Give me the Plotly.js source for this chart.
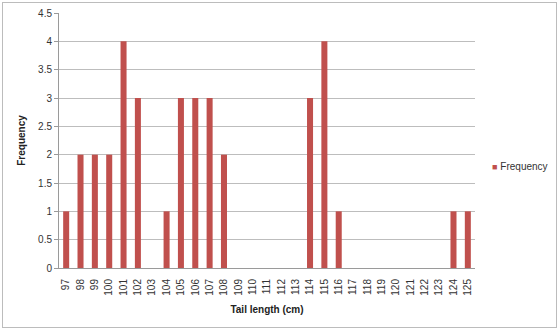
<!DOCTYPE html>
<html><head><meta charset="utf-8">
<script src="https://cdn.plot.ly/plotly-3.0.1.min.js"></script>
<style>html,body{margin:0;padding:0;background:#fff}#c{width:560px;height:331px}
#frame{position:absolute;left:2px;top:2px;width:555px;height:326px;border:1px solid #bcbcbc;pointer-events:none;box-sizing:border-box}</style>
</head><body>
<div id="c"></div><div id="frame"></div>
<script>
const categories = ["97","98","99","100","101","102","103","104","105","106","107","108","109","110","111","112","113","114","115","116","117","118","119","120","121","122","123","124","125"];
const frequency = [1,2,2,2,4,3,0,1,3,3,3,2,0,0,0,0,0,3,4,1,0,0,0,0,0,0,0,1,1];
const yTicks = [0,0.5,1,1.5,2,2.5,3,3.5,4,4.5];
const yTickLabels = ["0","0.5","1","1.5","2","2.5","3","3.5","4","4.5"];
const seriesName = "Frequency";
const barColor = "#C0504D";

const font = "Liberation Sans, Arial, sans-serif";
Plotly.newPlot("c", [{
  type: "bar", x: categories, y: frequency, name: seriesName, showlegend: false,
  marker: {color: barColor}
}, {
  type: "scatter", mode: "markers", x: [null], y: [null],
  name: '<span style="color:' + barColor + ';font-size:9px">■</span> ' + seriesName, showlegend: true,
  marker: {color: "rgba(0,0,0,0)", symbol: "square", size: 1, line: {width: 0}}
}], {
  width: 560, height: 331,
  margin: {l: 59, r: 85, t: 13, b: 63, autoexpand: false},
  paper_bgcolor: "#fff", plot_bgcolor: "#fff",
  bargap: 0.58,
  showlegend: true,
  legend: {x: 0.945, y: 0.40, xanchor: "left", yanchor: "middle", font: {family: font, size: 10, color: "#333"}, itemwidth: 30, bgcolor: "rgba(0,0,0,0)"},
  xaxis: {
    type: "category", tickangle: -90, tickfont: {family: font, size: 10, color: "#333"},
    showline: true, linecolor: "#9a9a9a", showgrid: false, ticks: "", ticklabelstandoff: 6,
    title: {text: "<b>Tail length (cm)</b>", font: {family: font, size: 10, color: "#222"}, standoff: 11}
  },
  yaxis: {
    range: [0, 4.5], tickvals: yTicks, ticktext: yTickLabels,
    tickfont: {family: font, size: 10, color: "#333"},
    showline: true, linecolor: "#9a9a9a", gridcolor: "#bdbdbd", zeroline: false,
    ticks: "outside", ticklen: 4, tickcolor: "#9a9a9a",
    title: {text: "<b>Frequency</b>", font: {family: font, size: 10, color: "#222"}, standoff: 10}
  }
}, {displayModeBar: false, staticPlot: true});
</script>
</body></html>
